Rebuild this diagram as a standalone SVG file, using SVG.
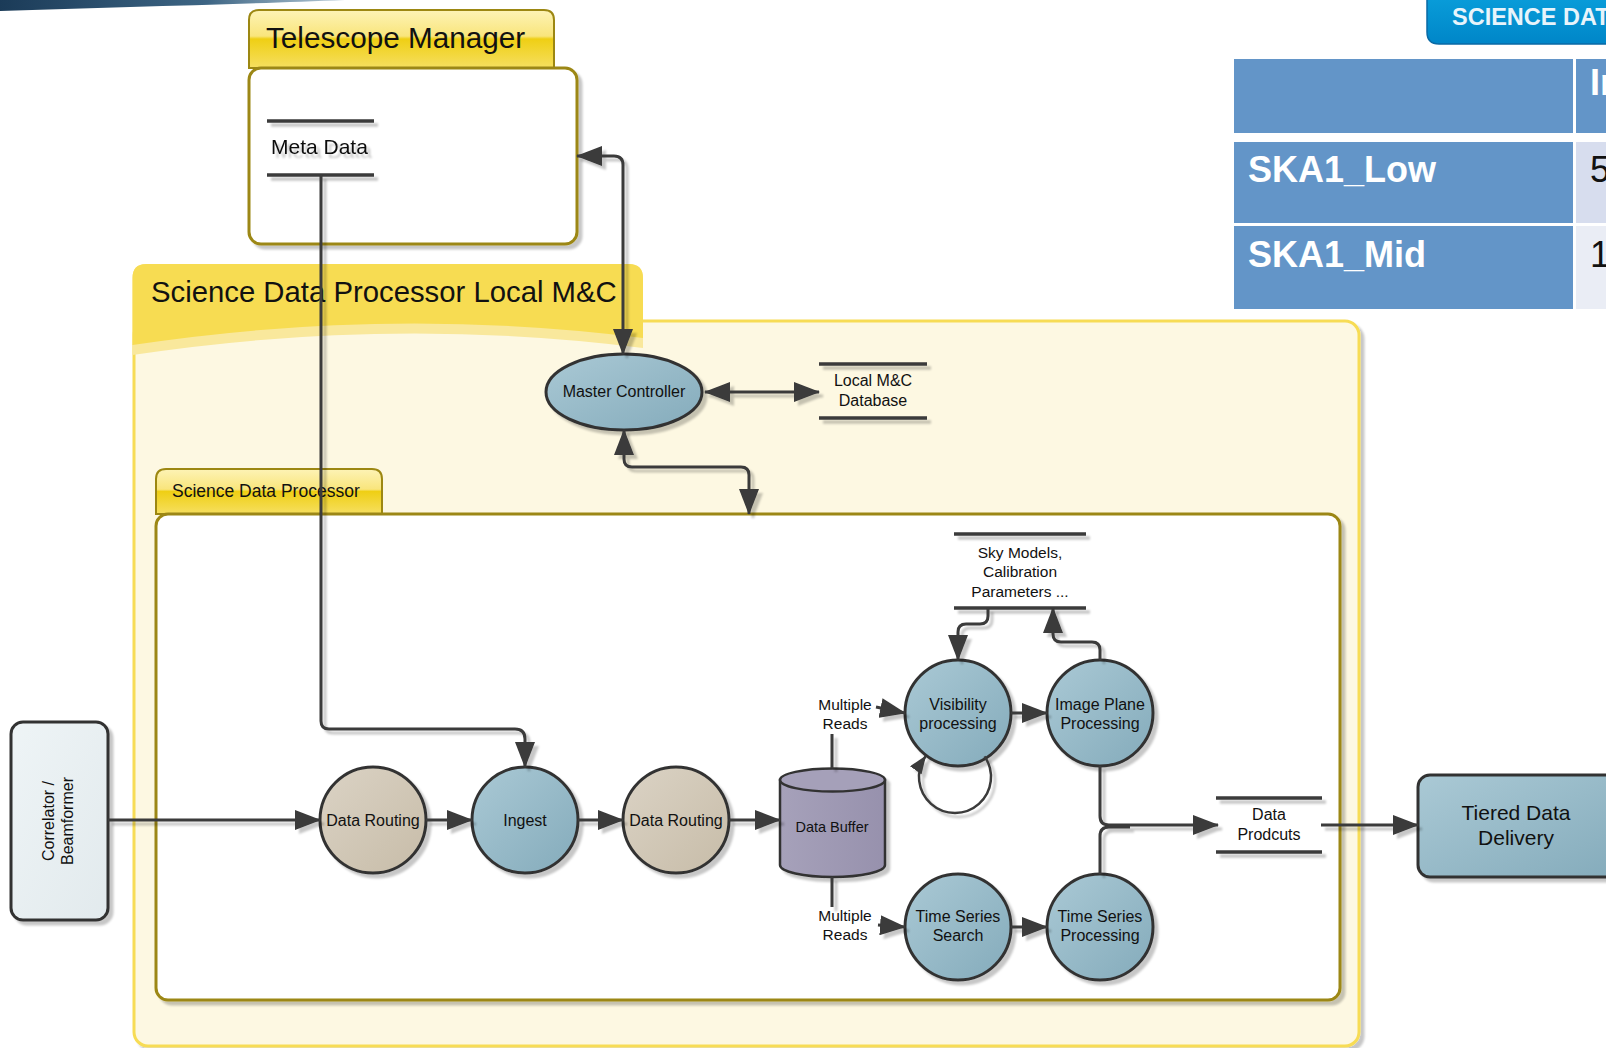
<svg xmlns="http://www.w3.org/2000/svg" width="1606" height="1048" viewBox="0 0 1606 1048">
  <style>
    text { font-family: "Liberation Sans", Arial, sans-serif; fill: #111; }
    .mid { text-anchor: middle; }
    .line { fill: none; stroke: #3a3a3a; stroke-width: 3; }
    .thin { fill: none; stroke: #3a3a3a; stroke-width: 2.5; }
    .store { stroke: #3a3a3a; stroke-width: 3.5; }
    .bubble { stroke: #333; stroke-width: 3; }
    .panel { fill: #fff; stroke: #9c8712; stroke-width: 3; }
    .tab { fill: url(#tabFill); stroke: #9c8712; stroke-width: 2; }
    .cell { fill: #6395c8; }
    .celltxt { font-weight: bold; fill: #fff; font-size: 36px; }
  </style>
  <defs>
    <linearGradient id="tabFill" x1="0" y1="0" x2="0" y2="1">
      <stop offset="0" stop-color="#fdf3b6"/>
      <stop offset="0.45" stop-color="#f9e57c"/>
      <stop offset="0.5" stop-color="#efcf14"/>
      <stop offset="1" stop-color="#f6df60"/>
    </linearGradient>
    <linearGradient id="blueFill" x1="0" y1="0" x2="1" y2="1">
      <stop offset="0" stop-color="#aac9d5"/>
      <stop offset="1" stop-color="#84abbb"/>
    </linearGradient>
    <linearGradient id="tanFill" x1="0" y1="0" x2="1" y2="1">
      <stop offset="0" stop-color="#dbd3c5"/>
      <stop offset="1" stop-color="#c7bca8"/>
    </linearGradient>
    <linearGradient id="bufferFill" x1="0" y1="0" x2="1" y2="0">
      <stop offset="0" stop-color="#a6a1ba"/>
      <stop offset="1" stop-color="#9791ad"/>
    </linearGradient>
    <linearGradient id="paleFill" x1="0" y1="0" x2="1" y2="1">
      <stop offset="0" stop-color="#eef4f6"/>
      <stop offset="1" stop-color="#e2eaed"/>
    </linearGradient>
    <linearGradient id="bannerFill" x1="0" y1="0" x2="0" y2="1">
      <stop offset="0" stop-color="#0aa0dc"/>
      <stop offset="1" stop-color="#0086c8"/>
    </linearGradient>
    <linearGradient id="swoosh" x1="0" y1="0" x2="1" y2="0">
      <stop offset="0" stop-color="#1b3b58"/>
      <stop offset="0.6" stop-color="#3d6584"/>
      <stop offset="1" stop-color="#b9ccd8"/>
    </linearGradient>
    <filter id="shadow" filterUnits="userSpaceOnUse" x="0" y="0" width="1606" height="1048">
      <feDropShadow dx="4" dy="4" stdDeviation="1.2" flood-color="#000" flood-opacity="0.22"/>
    </filter>
    <marker id="arrow" markerUnits="userSpaceOnUse" viewBox="0 0 26 20" markerWidth="26" markerHeight="20" refX="25" refY="10" orient="auto-start-reverse">
      <path d="M0,0 L26,10 L0,20 Z" fill="#3a3a3a"/>
    </marker>
    <marker id="arrowSmall" markerUnits="userSpaceOnUse" viewBox="0 0 18 14" markerWidth="18" markerHeight="14" refX="17" refY="7" orient="auto">
      <path d="M0,0 L18,7 L0,14 Z" fill="#3a3a3a"/>
    </marker>
  </defs>

  <rect width="1606" height="1048" fill="#fff"/>

  <!-- slide header decoration -->
  <path d="M0,0 H345 C250,4 120,7 0,11 Z" fill="url(#swoosh)"/>
  <g id="banner">
    <path d="M1427,-10 H1616 V44 H1439 Q1427,44 1427,32 Z" fill="url(#bannerFill)" stroke="#0a6aa5" stroke-width="1.5"/>
    <text x="1452" y="25" style="font-size:23.5px;font-weight:bold;fill:#e8f4fb;">SCIENCE DATA</text>
  </g>

  <!-- comparison table -->
  <g id="table">
    <rect class="cell" x="1234" y="59" width="339" height="74"/>
    <rect class="cell" x="1576" y="59" width="40" height="74"/>
    <rect class="cell" x="1234" y="142" width="339" height="81"/>
    <rect x="1576" y="142" width="40" height="81" fill="#d7ddee"/>
    <rect class="cell" x="1234" y="226" width="339" height="83"/>
    <rect x="1576" y="226" width="40" height="83" fill="#eaedf5"/>
    <text class="celltxt" x="1590" y="95">In</text>
    <text class="celltxt" x="1248" y="182">SKA1_Low</text>
    <text class="celltxt" x="1248" y="267">SKA1_Mid</text>
    <text x="1590" y="182" style="font-size:36px;">5</text>
    <text x="1590" y="267" style="font-size:36px;">1</text>
  </g>

  <!-- Telescope Manager -->
  <g id="telescope-manager">
    <path class="tab" d="M249,68 V20 Q249,10 259,10 H544 Q554,10 554,20 V68 Z"/>
    <rect class="panel" x="249" y="68" width="328" height="176" rx="12" filter="url(#shadow)"/>
    <text x="266" y="48" style="font-size:29.7px;">Telescope Manager</text>
  </g>
  <g id="meta-data" filter="url(#shadow)">
    <line class="store" x1="267" y1="121" x2="374" y2="121"/>
    <line class="store" x1="267" y1="175" x2="374" y2="175"/>
    <text x="271" y="154" style="font-size:21px;">Meta Data</text>
  </g>

  <!-- Science Data Processor Local M&C -->
  <g id="local-mc">
    <rect x="134" y="321" width="1225" height="725" rx="14" fill="#fdf8e2" stroke="#f7dc55" stroke-width="3" filter="url(#shadow)"/>
    <path d="M132.5,355 V278 Q132.5,264 146,264 H629 Q643,264 643,278 V348 Q391,316 132.5,355 Z" fill="#f9e89c"/>
    <path d="M132.5,345 V278 Q132.5,264 146,264 H629 Q643,264 643,278 V338 Q391,306 132.5,345 Z" fill="#f7dc52"/>
    <text x="151" y="302" style="font-size:29.3px;">Science Data Processor Local M&amp;C</text>
  </g>

  <g id="master-controller">
    <ellipse class="bubble" cx="624" cy="392" rx="78" ry="38" fill="url(#blueFill)" filter="url(#shadow)"/>
    <text class="mid" x="624" y="397" style="font-size:16px;">Master Controller</text>
  </g>
  <g id="local-db">
    <g filter="url(#shadow)">
      <line class="store" x1="819" y1="364" x2="927" y2="364"/>
      <line class="store" x1="819" y1="418" x2="927" y2="418"/>
    </g>
    <text class="mid" x="873" y="386" style="font-size:16px;">Local M&amp;C</text>
    <text class="mid" x="873" y="406" style="font-size:16px;">Database</text>
  </g>

  <!-- Science Data Processor -->
  <g id="sdp">
    <path class="tab" d="M156,514 V479 Q156,469 166,469 H372 Q382,469 382,479 V514 Z"/>
    <rect class="panel" x="156" y="514" width="1184" height="486" rx="12" filter="url(#shadow)"/>
    <text x="172" y="497" style="font-size:17.5px;">Science Data Processor</text>
  </g>

  <g id="correlator">
    <rect class="bubble" x="11" y="722" width="97" height="198" rx="12" fill="url(#paleFill)" filter="url(#shadow)"/>
    <text class="mid" transform="translate(54,821) rotate(-90)" style="font-size:16px;">Correlator /</text>
    <text class="mid" transform="translate(73,821) rotate(-90)" style="font-size:16px;">Beamformer</text>
  </g>

  <g id="data-routing-1">
    <circle class="bubble" cx="373" cy="820" r="53" fill="url(#tanFill)" filter="url(#shadow)"/>
    <text class="mid" x="373" y="826" style="font-size:16px;">Data Routing</text>
  </g>
  <g id="ingest">
    <circle class="bubble" cx="525" cy="820" r="53" fill="url(#blueFill)" filter="url(#shadow)"/>
    <text class="mid" x="525" y="826" style="font-size:16px;">Ingest</text>
  </g>
  <g id="data-routing-2">
    <circle class="bubble" cx="676" cy="820" r="53" fill="url(#tanFill)" filter="url(#shadow)"/>
    <text class="mid" x="676" y="826" style="font-size:16px;">Data Routing</text>
  </g>

  <g id="data-buffer">
    <g filter="url(#shadow)">
      <path d="M780,780 V865 A52.5,12 0 0,0 885,865 V780 Z" fill="url(#bufferFill)" stroke="#333" stroke-width="2.5"/>
      <ellipse cx="832.5" cy="780" rx="52.5" ry="11.5" fill="#a5a0b9" stroke="#333" stroke-width="2.5"/>
    </g>
    <text class="mid" x="832" y="832" style="font-size:14.5px;">Data Buffer</text>
  </g>

  <g id="reads-labels">
    <text class="mid" x="845" y="710" style="font-size:15.5px;">Multiple</text>
    <text class="mid" x="845" y="729" style="font-size:15.5px;">Reads</text>
    <text class="mid" x="845" y="921" style="font-size:15.5px;">Multiple</text>
    <text class="mid" x="845" y="940" style="font-size:15.5px;">Reads</text>
  </g>

  <g id="sky-models">
    <g filter="url(#shadow)">
      <line class="store" x1="954" y1="534" x2="1086" y2="534"/>
      <line class="store" x1="954" y1="608" x2="1086" y2="608"/>
    </g>
    <text class="mid" x="1020" y="558" style="font-size:15.5px;">Sky Models,</text>
    <text class="mid" x="1020" y="577" style="font-size:15.5px;">Calibration</text>
    <text class="mid" x="1020" y="597" style="font-size:15.5px;">Parameters ...</text>
  </g>

  <g id="visibility">
    <circle class="bubble" cx="958" cy="713" r="53" fill="url(#blueFill)" filter="url(#shadow)"/>
    <text class="mid" x="958" y="710" style="font-size:16px;">Visibility</text>
    <text class="mid" x="958" y="729" style="font-size:16px;">processing</text>
  </g>
  <g id="image-plane">
    <circle class="bubble" cx="1100" cy="713" r="53" fill="url(#blueFill)" filter="url(#shadow)"/>
    <text class="mid" x="1100" y="710" style="font-size:16px;">Image Plane</text>
    <text class="mid" x="1100" y="729" style="font-size:16px;">Processing</text>
  </g>
  <g id="ts-search">
    <circle class="bubble" cx="958" cy="927" r="53" fill="url(#blueFill)" filter="url(#shadow)"/>
    <text class="mid" x="958" y="922" style="font-size:16px;">Time Series</text>
    <text class="mid" x="958" y="941" style="font-size:16px;">Search</text>
  </g>
  <g id="ts-processing">
    <circle class="bubble" cx="1100" cy="927" r="53" fill="url(#blueFill)" filter="url(#shadow)"/>
    <text class="mid" x="1100" y="922" style="font-size:16px;">Time Series</text>
    <text class="mid" x="1100" y="941" style="font-size:16px;">Processing</text>
  </g>

  <g id="data-products">
    <g filter="url(#shadow)">
      <line class="store" x1="1216" y1="798" x2="1322" y2="798"/>
      <line class="store" x1="1216" y1="852" x2="1322" y2="852"/>
    </g>
    <text class="mid" x="1269" y="820" style="font-size:16px;">Data</text>
    <text class="mid" x="1269" y="840" style="font-size:16px;">Prodcuts</text>
  </g>

  <g id="tiered-delivery">
    <rect class="bubble" x="1418" y="775" width="204" height="102" rx="12" fill="url(#blueFill)" filter="url(#shadow)"/>
    <text class="mid" x="1516" y="820" style="font-size:21px;">Tiered Data</text>
    <text class="mid" x="1516" y="845" style="font-size:21px;">Delivery</text>
  </g>

  <!-- connectors -->
  <g id="connectors" filter="url(#shadow)">
    <path class="line" d="M321,175 V721 Q321,729 329,729 H515 Q525,729 525,739 V767" marker-end="url(#arrow)"/>
    <path class="line" d="M577,156 H614 Q623,156 623,165 V354" marker-start="url(#arrow)" marker-end="url(#arrow)"/>
    <path class="line" d="M705,392 H819" marker-start="url(#arrow)" marker-end="url(#arrow)"/>
    <path class="line" d="M624,430 V459 Q624,467 632,467 H741 Q749,467 749,475 V514" marker-start="url(#arrow)" marker-end="url(#arrow)"/>
    <path class="line" d="M108,820 H320" marker-end="url(#arrow)"/>
    <path class="line" d="M426,820 H472" marker-end="url(#arrow)"/>
    <path class="line" d="M578,820 H623" marker-end="url(#arrow)"/>
    <path class="line" d="M729,820 H780" marker-end="url(#arrow)"/>
    <path class="line" d="M832,768 V734"/>
    <path class="line" d="M832,877 V907"/>
    <path class="line" d="M876,707 L905,713" marker-end="url(#arrow)"/>
    <path class="line" d="M878,925 L905,927" marker-end="url(#arrow)"/>
    <path class="line" d="M1011,713 H1047" marker-end="url(#arrow)"/>
    <path class="line" d="M1011,927 H1047" marker-end="url(#arrow)"/>
    <path class="line" d="M988,608 V616 Q988,624 980,624 H966 Q958,624 958,632 V660" marker-end="url(#arrow)"/>
    <path class="line" d="M1100,660 V650 Q1100,642 1092,642 H1061 Q1053,642 1053,634 V608" marker-end="url(#arrow)"/>
    <path class="thin" d="M984.5,756.4 A36,36 0 1,1 925.5,756.4" marker-end="url(#arrowSmall)"/>
    <path class="line" d="M1100,766 V816 Q1100,825 1109,825 H1218" marker-end="url(#arrow)"/>
    <path class="line" d="M1100,874 V836 Q1100,827 1109,827 H1130"/>
    <path class="line" d="M1321,825 H1418" marker-end="url(#arrow)"/>
  </g>
</svg>
